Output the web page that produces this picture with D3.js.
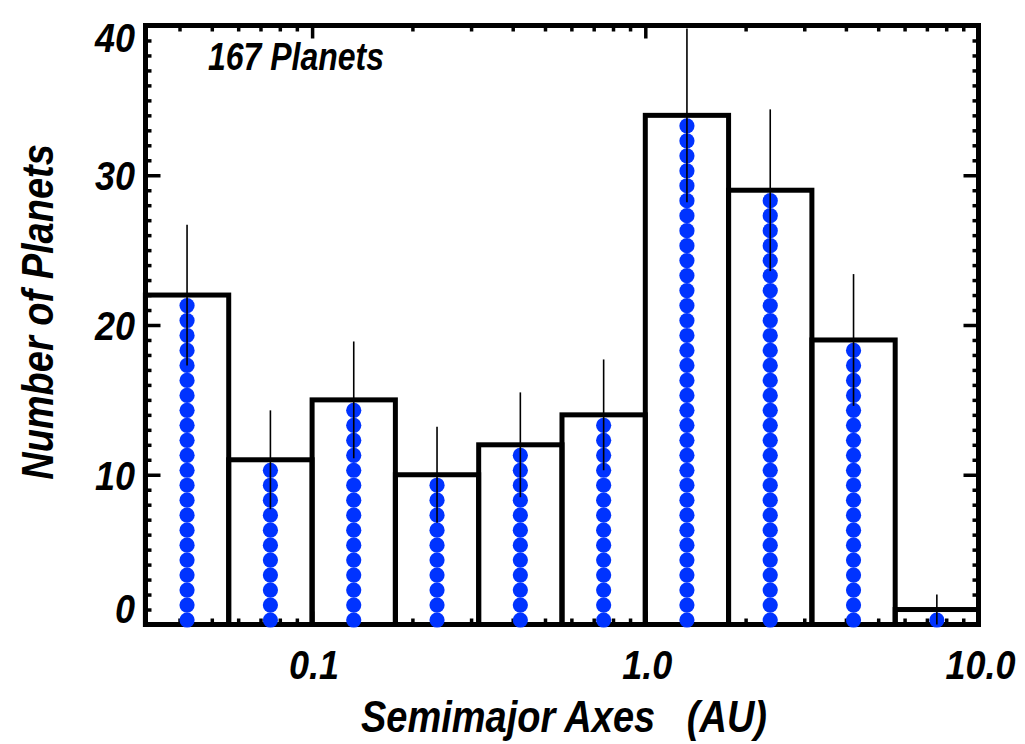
<!DOCTYPE html>
<html>
<head>
<meta charset="utf-8">
<script src="https://cdn.jsdelivr.net/npm/d3@7"></script>
<style>
  html, body { margin: 0; padding: 0; background: #fff; }
  svg { display: block; }
  text { white-space: pre; }
</style>
</head>
<body>
<svg id="chart" width="1025" height="744"></svg>
<script>
// ---- data ----
const binEdges = [0.0316, 0.0562, 0.1, 0.1778, 0.3162, 0.5623, 1.0, 1.778, 3.162, 5.623, 10.0];
const counts   = [22, 11, 15, 10, 12, 14, 34, 29, 19, 1];
const errors   = [4.7, 3.3, 3.9, 3.2, 3.5, 3.7, 5.8, 5.4, 4.4, 1.0];
const xMajorTicks = [0.1, 1.0, 10.0];
const xTickLabels = ["0.1", "1.0", "10.0"];
const yMajorTicks = [0, 10, 20, 30, 40];
const yTickLabels = ["0", "10", "20", "30", "40"];
const xMinorTicks = [0.04, 0.05, 0.06, 0.07, 0.08, 0.09, 0.2, 0.3, 0.4, 0.5, 0.6, 0.7, 0.8, 0.9, 2, 3, 4, 5, 6, 7, 8, 9];
const yMinorTicks = d3.range(0, 41).filter(v => v % 10 !== 0);
const annotation = "167 Planets";
const xTitle = "Semimajor Axes   (AU)";
const yTitle = "Number of Planets";

// ---- layout ----
const L = 145.5, R = 978.5, T = 25.5, B = 624.5;
const svg = d3.select("#chart");
const x = d3.scaleLog().domain([Math.pow(10, -1.5), 10]).range([L, R]);
const y = d3.scaleLinear().domain([0, 40]).range([B, T]);
const FONT = "'Liberation Sans', Arial, Helvetica, sans-serif";
const dotColor = "#0033ff";

const bins = counts.map((n, i) => ({
  lo: binEdges[i], hi: binEdges[i + 1], n, err: errors[i],
  c: Math.sqrt(binEdges[i] * binEdges[i + 1])
}));

// bars
svg.append("g").selectAll("rect").data(bins).join("rect")
  .attr("x", d => x(d.lo)).attr("width", d => x(d.hi) - x(d.lo))
  .attr("y", d => y(d.n)).attr("height", d => y(0) - y(d.n))
  .attr("fill", "none").attr("stroke", "#000").attr("stroke-width", 5);

// axis frame
svg.append("rect").attr("x", L).attr("y", T).attr("width", R - L).attr("height", B - T)
  .attr("fill", "none").attr("stroke", "#000").attr("stroke-width", 5);

// ticks (inward)
function ticks(axisGen, transform, size) {
  const g = svg.append("g").attr("transform", transform)
    .call(axisGen.tickSize(size).tickFormat(""));
  g.select(".domain").remove();
  g.selectAll(".tick line").attr("stroke", "#000").attr("stroke-width", 3.5);
}
ticks(d3.axisBottom(x).tickValues(xMajorTicks), `translate(0,${B})`, -13);
ticks(d3.axisBottom(x).tickValues(xMinorTicks), `translate(0,${B})`, -6);
ticks(d3.axisTop(x).tickValues(xMajorTicks), `translate(0,${T})`, -13);
ticks(d3.axisTop(x).tickValues(xMinorTicks), `translate(0,${T})`, -6);
ticks(d3.axisLeft(y).tickValues(yMajorTicks), `translate(${L},0)`, -15);
ticks(d3.axisLeft(y).tickValues(yMinorTicks), `translate(${L},0)`, -6);
ticks(d3.axisRight(y).tickValues(yMajorTicks), `translate(${R},0)`, -15);
ticks(d3.axisRight(y).tickValues(yMinorTicks), `translate(${R},0)`, -6);

// dots
const dots = [];
bins.forEach(b => { for (let i = 0; i < b.n; i++) dots.push({ c: b.c, v: i + 0.3 }); });
svg.append("g").selectAll("circle").data(dots).join("circle")
  .attr("cx", d => x(d.c)).attr("cy", d => y(d.v)).attr("r", 7.6)
  .attr("fill", dotColor);

// error bars
svg.append("g").selectAll("line").data(bins).join("line")
  .attr("x1", d => x(d.c)).attr("x2", d => x(d.c))
  .attr("y1", d => y(Math.max(0, d.n - d.err))).attr("y2", d => y(Math.min(40, d.n + d.err)))
  .attr("stroke", "#000").attr("stroke-width", 1.6);

// text helper with vertical stretch
function stext(tx, ty, str, fs, sy, anchor, rot) {
  svg.append("text")
    .attr("transform", `translate(${tx},${ty}) rotate(${rot || 0}) scale(1,${sy})`)
    .attr("text-anchor", anchor)
    .attr("xml:space", "preserve")
    .style("font-family", FONT).style("font-weight", "bold").style("font-style", "italic")
    .style("font-size", fs + "px").attr("fill", "#000")
    .text(str);
}

// x tick labels
xMajorTicks.forEach((v, i) => stext(x(v) + 2, 679, xTickLabels[i], 36, 1.15, "middle"));
// y tick labels
yMajorTicks.forEach((v, i) => {
  let by = y(v) + 15;
  if (v === 0) by = 623;
  if (v === 40) by = 52;
  stext(135, by, yTickLabels[i], 36, 1.15, "end");
});
// titles
stext((L + R) / 2 + 2, 732, xTitle, 38, 1.15, "middle");
stext(53, 312, yTitle, 38, 1.18, "middle", -90);
stext(208, 70, annotation, 32, 1.2, "start");
</script>
</body>
</html>
